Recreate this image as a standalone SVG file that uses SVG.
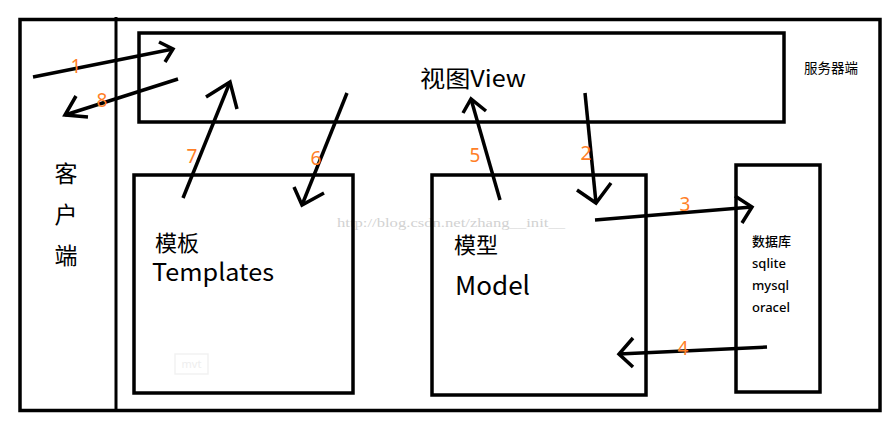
<svg xmlns="http://www.w3.org/2000/svg" width="890" height="424" viewBox="0 0 890 424">
<style>
.box{fill:none;stroke:#000;stroke-width:3.5}
.ar{fill:none;stroke:#000;stroke-width:3.5;stroke-linecap:butt;stroke-linejoin:miter}
.t{font-family:"Noto Sans CJK SC","Noto Sans",sans-serif;fill:#000}
.n{font-family:"Noto Sans","Noto Sans CJK SC",sans-serif;fill:#FF7F27;font-size:19px}
.db{font-family:"Noto Sans","Noto Sans CJK SC",sans-serif;font-size:13px;fill:#000;font-weight:500}
</style>
<rect width="890" height="424" fill="#fff"/>
<g id="watermark">
<text x="337" y="227" font-family="Liberation Serif, serif" font-size="13" fill="#d2d2d2" textLength="228" lengthAdjust="spacingAndGlyphs">http://blog.csdn.net/zhang__init__</text>
<rect x="175" y="354" width="33" height="20" fill="none" stroke="#f2f2f2" stroke-width="1.5"/>
<text x="191.5" y="368" font-family="Noto Sans, sans-serif" font-size="11" fill="#eeeeee" text-anchor="middle">mvt</text>
</g>
<g id="server">
<rect class="box" x="20" y="19.5" width="860" height="391"/>
<text class="t" x="804" y="73" font-size="13.5">服务器端</text>
</g>
<g id="client">
<line x1="116" y1="17" x2="116" y2="411" stroke="#000" stroke-width="3"/>
<text class="t" x="66" y="182" font-size="23" text-anchor="middle">客</text>
<text class="t" x="66" y="223" font-size="23" text-anchor="middle">户</text>
<text class="t" x="66" y="264" font-size="23" text-anchor="middle">端</text>
</g>
<g id="view">
<rect class="box" x="139" y="33" width="645" height="89"/>
<text class="t" x="420" y="87" font-size="23" textLength="106" lengthAdjust="spacingAndGlyphs">视图View</text>
</g>
<g id="templates">
<rect class="box" x="134" y="175" width="219" height="218"/>
<text class="t" x="155" y="251" font-size="22">模板</text>
<text class="t" x="152" y="281" font-size="24" textLength="122" lengthAdjust="spacingAndGlyphs">Templates</text>
</g>
<g id="model">
<rect class="box" x="432" y="175" width="214" height="220"/>
<text class="t" x="454" y="253" font-size="22">模型</text>
<text class="t" x="455" y="295" font-size="26" textLength="75" lengthAdjust="spacingAndGlyphs">Model</text>
</g>
<g id="database">
<rect class="box" x="736" y="165" width="84" height="227"/>
<text class="db" x="752" y="246">数据库</text>
<text class="db" x="752" y="268">sqlite</text>
<text class="db" x="752" y="290">mysql</text>
<text class="db" x="752" y="312">oracel</text>
</g>
<g id="connectors">
<polyline class="ar" points="33,77 173,49"/><polyline class="ar" points="159,42 173,49 165,62"/>
<polyline class="ar" points="178,79 65,115"/><polyline class="ar" points="76,96 65,115 88,117"/>
<polyline class="ar" points="183,198 230,82"/><polyline class="ar" points="206,97 230,82 237,109"/>
<polyline class="ar" points="347,93 302,205"/><polyline class="ar" points="294,187 302,205 324,193"/>
<polyline class="ar" points="500,200 471,99"/><polyline class="ar" points="463,113 471,99 486,111"/>
<polyline class="ar" points="585,93 596,203"/><polyline class="ar" points="577,190 596,203 611,183"/>
<polyline class="ar" points="595,220 752,207"/><polyline class="ar" points="735,196 752,207 742,223"/>
<polyline class="ar" points="767,347 619,354"/><polyline class="ar" points="633,338 619,354 633,367"/>
</g>
<g id="labels">
<text class="n" x="76" y="73" text-anchor="middle">1</text>
<text class="n" x="102" y="107" text-anchor="middle">8</text>
<text class="n" x="192" y="163" text-anchor="middle">7</text>
<text class="n" x="316" y="165" text-anchor="middle">6</text>
<text class="n" x="475" y="162" text-anchor="middle">5</text>
<text class="n" x="586" y="160" text-anchor="middle">2</text>
<text class="n" x="685" y="211" text-anchor="middle">3</text>
<text class="n" x="683" y="355" text-anchor="middle">4</text>
</g>
</svg>
